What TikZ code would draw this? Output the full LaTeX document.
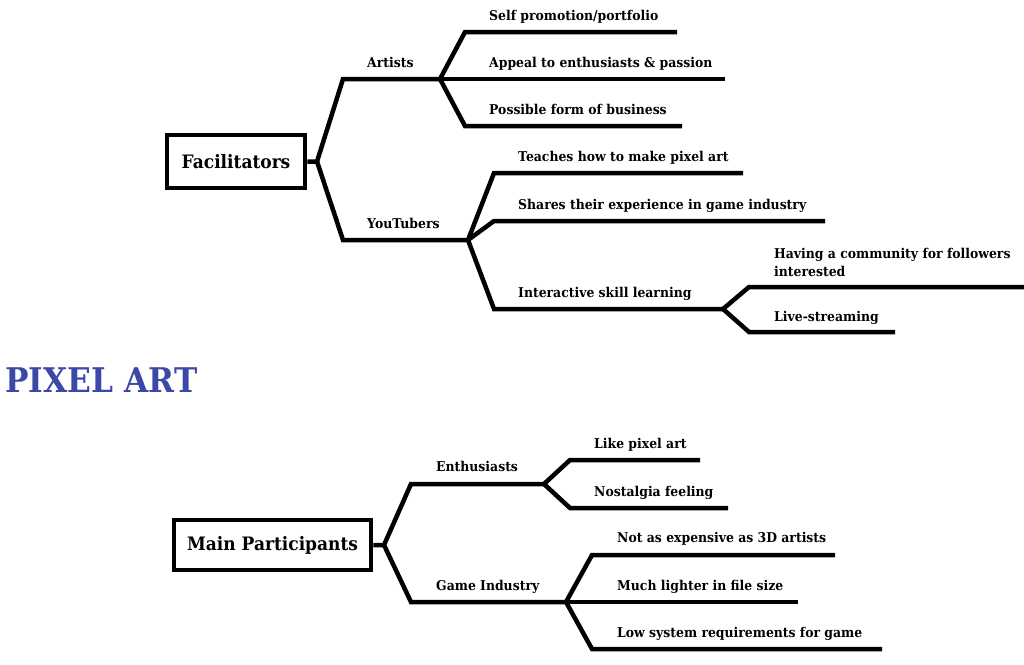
\documentclass[tikz,border=0pt]{standalone}
\usepackage{fontspec}
\setmainfont{DejaVu Serif}[FakeStretch=0.92]
\definecolor{pixelblue}{HTML}{3B48A8}

\begin{document}
\begin{tikzpicture}[x=1pt,y=-1pt,line cap=butt,line join=miter,
  branch/.style={line width=4.5pt},
  leaf/.style={anchor=base west,inner sep=0pt,font=\bfseries\fontsize{13.5}{18}\selectfont},
  topic/.style={draw,line width=4.5pt,inner sep=0pt,font=\bfseries\fontsize{18.5}{22}\selectfont}]
\useasboundingbox (0,0) rectangle (1024,664);

% title
\node[anchor=base west,inner sep=0pt,text=pixelblue,font=\bfseries\fontsize{34}{40}\selectfont] (title) at (5,392) {PIXEL ART};

% facilitators
\node[topic,minimum width=138pt,minimum height=53pt] (fac) at (236,161.5) {Facilitators};
\coordinate (fac-j) at (317,161.5);
\coordinate (art) at (440,79);
\coordinate (you) at (468,240);
\draw[branch] (fac.east) -- (fac-j) -- ++(26,-82.5) -- (art);
\draw[branch] (fac-j) -- ++(26,78.5) -- (you);
\node[leaf] (artists) at (367,67) {Artists};
\node[leaf] (youtubers) at (367,228) {YouTubers};

\coordinate (self-e) at (677,32);
\coordinate (appeal-e) at (725,79);
\coordinate (bus-e) at (682,126);
\draw[branch] (art) -- ++(25,-47) -- (self-e);
\draw[branch] (art) -- (appeal-e);
\draw[branch] (art) -- ++(25,47) -- (bus-e);
\node[leaf] (self) at (489,20) {Self promotion/portfolio};
\node[leaf] (appeal) at (489,67) {Appeal to enthusiasts \& passion};
\node[leaf] (bus) at (489,114) {Possible form of business};

\coordinate (teach-e) at (743,173);
\coordinate (share-e) at (825,221);
\coordinate (inter) at (723,309);
\draw[branch] (you) -- ++(26,-67) -- (teach-e);
\draw[branch] (you) -- ++(26,-19) -- (share-e);
\draw[branch] (you) -- ++(26,69) -- (inter);
\node[leaf] (teach) at (518,161) {Teaches how to make pixel art};
\node[leaf] (share) at (518,209) {Shares their experience in game industry};
\node[leaf] (interactive) at (518,297) {Interactive skill learning};

\coordinate (comm-e) at (1024,287);
\coordinate (live-e) at (895,332);
\draw[branch] (inter) -- ++(26,-22) -- (comm-e);
\draw[branch] (inter) -- ++(26,23) -- (live-e);
\node[leaf,anchor=south west,align=left] (comm) at (774,277) {Having a community for followers\\interested};
\node[leaf] (live) at (774,321) {Live-streaming};

% main participants
\node[topic,minimum width=197pt,minimum height=50pt] (mp) at (272.5,545) {Main Participants};
\coordinate (mp-j) at (384,545);
\coordinate (ent) at (544,484);
\coordinate (game) at (566,602);
\draw[branch] (mp.east) -- (mp-j) -- ++(27,-61) -- (ent);
\draw[branch] (mp-j) -- ++(27,57) -- (game);
\node[leaf] (enthusiasts) at (436,471) {Enthusiasts};
\node[leaf] (industry) at (436,590) {Game Industry};

\coordinate (like-e) at (700,460);
\coordinate (nost-e) at (728,508);
\draw[branch] (ent) -- ++(26,-24) -- (like-e);
\draw[branch] (ent) -- ++(26,24) -- (nost-e);
\node[leaf] (like) at (594,448) {Like pixel art};
\node[leaf] (nost) at (594,496) {Nostalgia feeling};

\coordinate (exp-e) at (835,555);
\coordinate (light-e) at (798,602);
\coordinate (low-e) at (882,649);
\draw[branch] (game) -- ++(26,-47) -- (exp-e);
\draw[branch] (game) -- (light-e);
\draw[branch] (game) -- ++(26,47) -- (low-e);
\node[leaf] (exp) at (617,542) {Not as expensive as 3D artists};
\node[leaf] (light) at (617,590) {Much lighter in file size};
\node[leaf] (low) at (617,637) {Low system requirements for game};
\end{tikzpicture}
\end{document}
